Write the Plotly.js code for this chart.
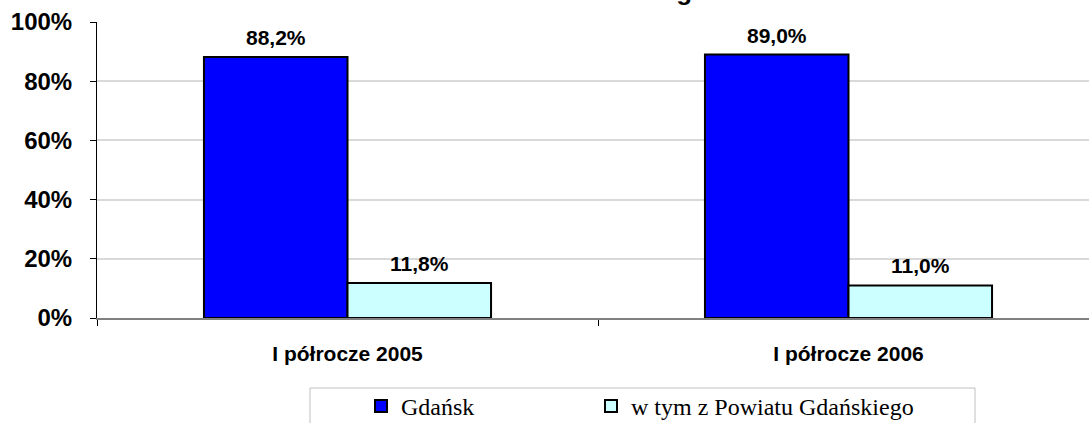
<!DOCTYPE html>
<html>
<head>
<meta charset="utf-8">
<script src="https://cdn.plot.ly/plotly-3.0.1.min.js"></script>
<style>html,body{margin:0;padding:0;background:#fff;overflow:hidden}#chart{width:1089px;height:423px}</style>
</head>
<body>
<div id="chart"></div>
<script>
const categories = ['I półrocze 2005', 'I półrocze 2006'];
const seriesNames = ['Gdańsk', 'w tym z Powiatu Gdańskiego'];
const gdanskValues = [88.2, 89.0];
const powiatValues = [11.8, 11.0];
const yTickValues = [0, 20, 40, 60, 80, 100];
const yTickLabels = ['0%', '20%', '40%', '60%', '80%', '100%'];
const titleText = 'z Powiatu Gdańskiego';

const W = 1089, H = 423;
const mL = 97, mR = 0, mT = 22, mB = 105;
const plotW = W - mL - mR, plotH = H - mT - mB;
const px = v => (v - mL) / plotW;      // pixel x -> paper x
const py = v => (H - mB - v) / plotH;  // pixel y -> paper y

const barOutline = {color: '#000000', width: 2};
const traces = [
  {type: 'bar', name: seriesNames[0], x: categories, y: gdanskValues, legend: 'legend',
   marker: {color: '#0000FF', line: barOutline}, hoverinfo: 'skip'},
  {type: 'bar', name: seriesNames[1], x: categories, y: powiatValues, legend: 'legend2',
   marker: {color: '#CCFFFF', line: barOutline}, hoverinfo: 'skip'}
];

const sans = 'Liberation Sans, Arial, sans-serif';
const fmt = v => v.toFixed(1).replace('.', ',') + '%';
const labelFont = {family: sans, size: 21, color: '#000'};
const annotations = [];
[gdanskValues, powiatValues].forEach((vals, si) => {
  vals.forEach((v, ci) => {
    annotations.push({x: categories[ci], y: v, xref: 'x', yref: 'y',
      text: '<b>' + fmt(v) + '</b>', showarrow: false, yanchor: 'bottom',
      xshift: si === 0 ? -72 : 72, yshift: 6, font: labelFont});
  });
});
annotations.push({x: px(570), y: py(8.5), xref: 'paper', yref: 'paper',
  text: '<b>' + titleText + '</b>', showarrow: false, yanchor: 'bottom', xanchor: 'center',
  font: {family: sans, size: 26, color: '#000'}});

const legendBase = {orientation: 'h', xref: 'container', yref: 'container',
  y: 1 - 384 / H, xanchor: 'left', yanchor: 'top',
  font: {family: 'Liberation Serif, Times New Roman, serif', size: 24, color: '#000'},
  bgcolor: 'rgba(0,0,0,0)', borderwidth: 0};

const layout = {
  width: W, height: H,
  margin: {l: mL, r: mR, t: mT, b: mB, pad: 0, autoexpand: false},
  paper_bgcolor: '#fff', plot_bgcolor: '#fff',
  separators: ', ',
  barmode: 'group', bargap: 0.427, bargroupgap: 0,
  showlegend: true,
  legend: Object.assign({}, legendBase, {x: 361 / W}),
  legend2: Object.assign({}, legendBase, {x: 591 / W}),
  xaxis: {type: 'category', range: [-0.5, -0.5 + plotW / 501], tickson: 'boundaries',
    ticks: 'outside', ticklen: 6, tickcolor: '#000', tickwidth: 1,
    showline: true, linecolor: '#808080', linewidth: 2, showgrid: false, zeroline: false,
    tickfont: {family: sans, size: 21, color: '#000'},
    ticklabelstandoff: 16, fixedrange: true},
  yaxis: {range: [0, 100], tickvals: yTickValues, ticktext: yTickLabels.map(t => '<b>' + t + '</b>'),
    ticks: 'outside', ticklen: 6, tickcolor: '#000', tickwidth: 1,
    showline: true, linecolor: '#000', linewidth: 1, showgrid: true, gridcolor: '#d9d9d9', gridwidth: 2,
    zeroline: false,
    tickfont: {family: sans, size: 24, color: '#000'},
    ticklabelstandoff: 13, fixedrange: true},
  shapes: [
    {type: 'rect', xref: 'paper', yref: 'paper', x0: px(310), x1: px(975), y0: py(388), y1: py(440),
     line: {color: '#c0c0c0', width: 1}, fillcolor: 'rgba(0,0,0,0)', layer: 'below'}
  ],
  annotations: annotations
};
layout.xaxis.ticktext = categories.map(c => '<b>' + c + '</b>');
layout.xaxis.tickvals = categories;

Plotly.newPlot('chart', traces, layout, {staticPlot: true, displayModeBar: false});
</script>
</body>
</html>
